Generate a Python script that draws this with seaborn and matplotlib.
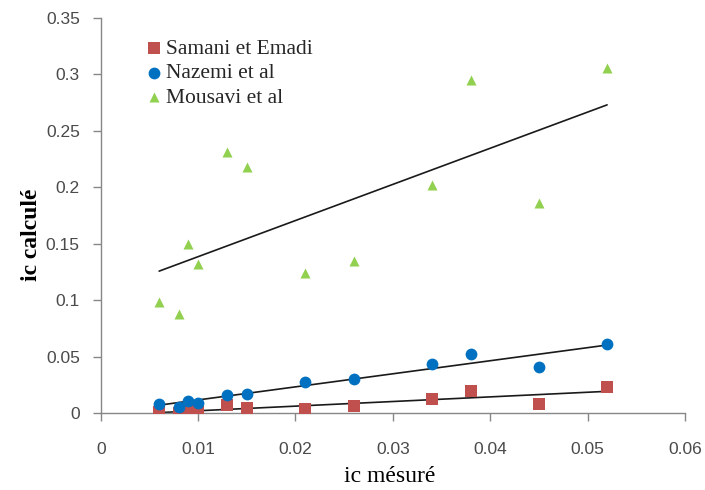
import numpy as np
import pandas as pd
import matplotlib
matplotlib.use("Agg")
import matplotlib.pyplot as plt
import seaborn as sns

# Data
ic_mesure = [0.006, 0.008, 0.009, 0.010, 0.013, 0.015, 0.021, 0.026, 0.034, 0.038, 0.045, 0.052]
samani_emadi = [0.0009, 0.0003, 0.0018, 0.0012, 0.0071, 0.0042, 0.0033, 0.0062, 0.0122, 0.0195, 0.0083, 0.0231]
nazemi = [0.0077, 0.0056, 0.0106, 0.0091, 0.0157, 0.0171, 0.0275, 0.0304, 0.0432, 0.0521, 0.0408, 0.0610]
mousavi = [0.098, 0.088, 0.150, 0.132, 0.231, 0.218, 0.124, 0.135, 0.202, 0.295, 0.186, 0.306]

series_names = ["Samani et Emadi", "Nazemi et al", "Mousavi et al"]
series_values = [samani_emadi, nazemi, mousavi]
series_colors = ["#C0504D", "#0070C0", "#92D050"]
series_markers = ["s", "o", "^"]
series_sizes = [66, 72, 52]

x_ticks = [0, 0.01, 0.02, 0.03, 0.04, 0.05, 0.06]
x_ticklabels = ["0", "0.01", "0.02", "0.03", "0.04", "0.05", "0.06"]
y_ticks = [0, 0.05, 0.1, 0.15, 0.2, 0.25, 0.3, 0.35]
y_ticklabels = ["0", "0.05", "0.1", "0.15", "0.2", "0.25", "0.3", "0.35"]

sns.set_theme(style="white")
plt.rcParams["font.family"] = ["Liberation Sans", "DejaVu Sans"]

fig = plt.figure(figsize=(7.05, 4.9), dpi=100)
ax = fig.add_axes([100.7 / 705, 1 - 413 / 490, (685 - 100.7) / 705, (413 - 18) / 490])

for name, vals, col, mk, sz in zip(series_names, series_values, series_colors, series_markers, series_sizes):
    df = pd.DataFrame({"x": ic_mesure, "y": vals})
    sns.regplot(data=df, x="x", y="y", ax=ax, ci=None, label=name,
                marker=mk,
                scatter_kws={"color": col, "s": sz, "linewidths": 0, "zorder": 3, "alpha": 1},
                line_kws={"color": "#1a1a1a", "linewidth": 1.2, "zorder": 2})

ax.set_xlim(0, 0.06)
ax.set_ylim(0, 0.35)
ax.set_xticks(x_ticks)
ax.set_xticklabels(x_ticklabels)
ax.set_yticks(y_ticks)
ax.set_yticklabels(y_ticklabels)

spine_col = "#878787"
for s in ["top", "right"]:
    ax.spines[s].set_visible(False)
for s in ["left", "bottom"]:
    ax.spines[s].set_color(spine_col)
    ax.spines[s].set_linewidth(1.0)

ax.tick_params(axis="both", which="both", direction="out", color=spine_col,
               length=6, width=1.0, labelsize=12.5, labelcolor="#4a4a4a")
ax.tick_params(axis="x", pad=15, bottom=True)
ax.tick_params(axis="y", pad=9, left=True)
ax.grid(False)

ax.set_xlabel("ic mésuré", fontsize=17, family=["Liberation Serif", "DejaVu Serif"], color="black")
ax.set_ylabel("ic calculé", fontsize=17, family=["Liberation Serif", "DejaVu Serif"],
              fontweight="bold", color="black")
ax.xaxis.set_label_coords(0.494, -0.135)
ax.yaxis.set_label_coords(-0.10, 0.45)

leg = ax.legend(loc="upper left", bbox_to_anchor=(0.073, 0.947), frameon=False,
                prop={"family": ["Liberation Serif", "DejaVu Serif"], "size": 15.5},
                handletextpad=0.05, handlelength=1.0, labelspacing=0.2,
                borderaxespad=0, borderpad=0, markerscale=1.0)

fig.savefig("out.png", dpi=100)
